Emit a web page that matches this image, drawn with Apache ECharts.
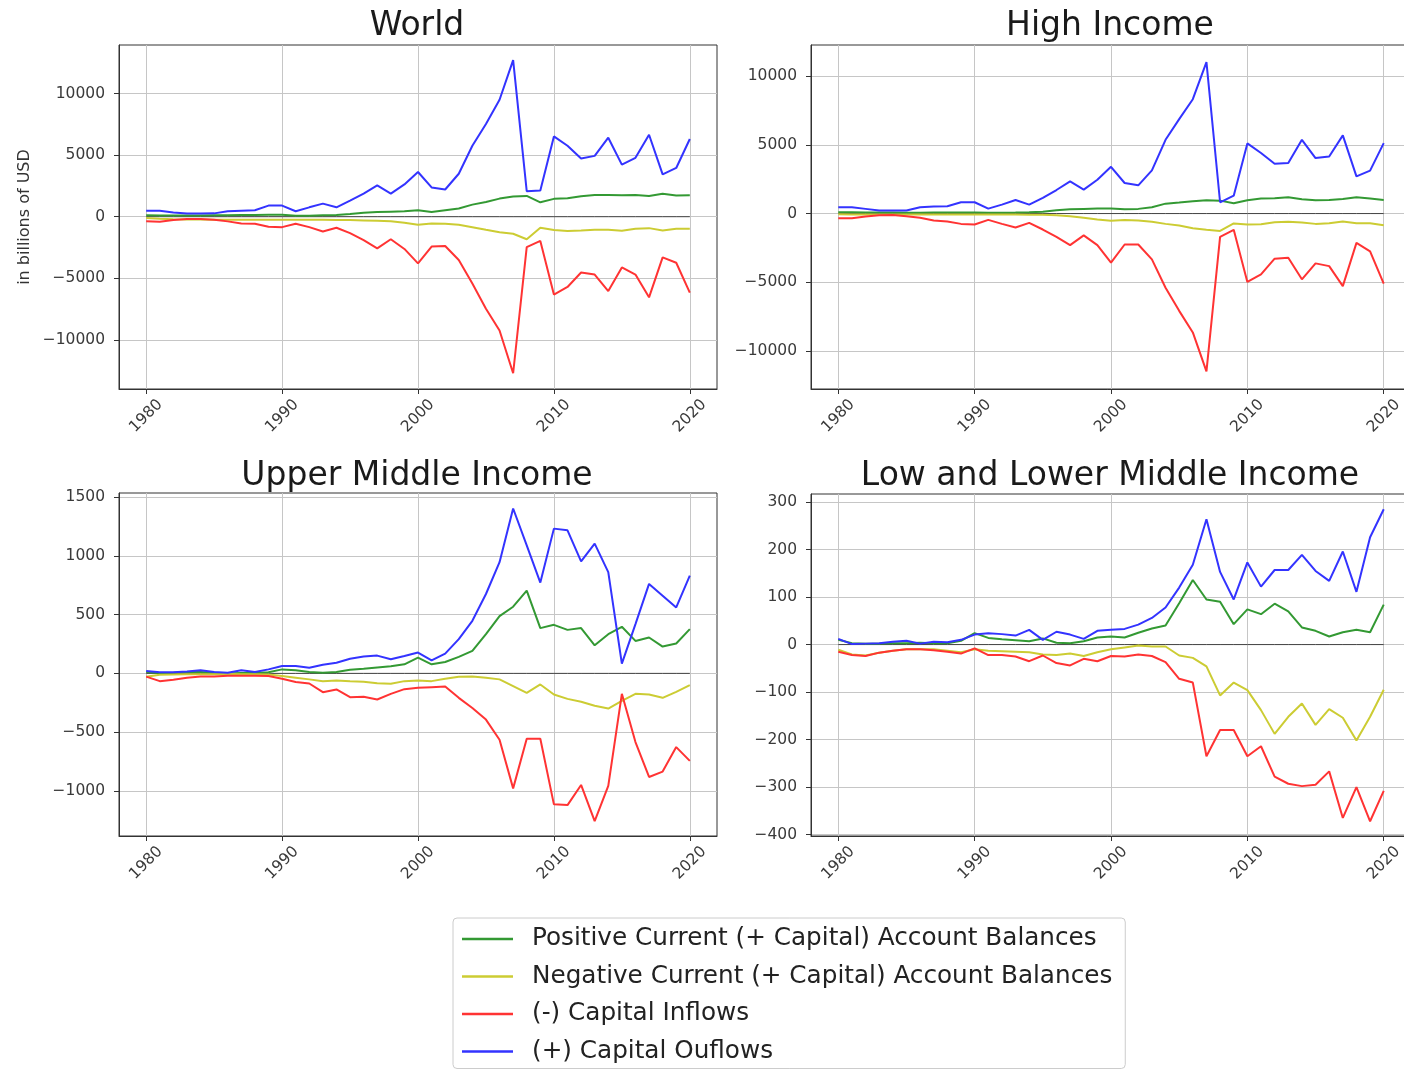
<!DOCTYPE html>
<html><head><meta charset="utf-8">
<script src="https://cdn.jsdelivr.net/npm/echarts@6/dist/echarts.min.js"></script>
<style>html,body{margin:0;padding:0;background:#fff}#c{width:1404px;height:1071px}</style>
</head><body><div id="c"></div>
<script>
// ---------- DATA (billions of USD) ----------
const years = [1980,1981,1982,1983,1984,1985,1986,1987,1988,1989,1990,1991,1992,1993,1994,1995,1996,1997,1998,1999,2000,2001,2002,2003,2004,2005,2006,2007,2008,2009,2010,2011,2012,2013,2014,2015,2016,2017,2018,2019,2020];
const xTicks = [1980,1990,2000,2010,2020];
const seriesNames = ['Positive Current (+ Capital) Account Balances','Negative Current (+ Capital) Account Balances','(-) Capital Inflows','(+) Capital Ouflows'];
const panelTitles = ['World','High Income','Upper Middle Income','Low and Lower Middle Income'];
const yAxisTitle = 'in billions of USD';

// World
const worldPos = [110,100,100,90,100,110,120,130,140,150,160,80,80,110,140,220,330,380,410,440,520,380,520,660,980,1200,1470,1640,1690,1170,1450,1500,1670,1770,1770,1750,1770,1690,1860,1720,1750];
const worldNeg = [-110,-160,-200,-220,-230,-240,-250,-250,-250,-250,-250,-240,-240,-250,-260,-270,-300,-330,-380,-490,-660,-550,-570,-660,-850,-1060,-1260,-1390,-1830,-900,-1090,-1170,-1120,-1060,-1060,-1150,-980,-930,-1120,-980,-980];
const worldIn = [-380,-410,-270,-190,-190,-250,-380,-550,-570,-820,-850,-570,-850,-1200,-900,-1340,-1910,-2570,-1830,-2620,-3790,-2430,-2380,-3520,-5430,-7480,-9250,-12720,-2480,-1970,-6330,-5710,-4530,-4700,-6040,-4120,-4700,-6550,-3300,-3740,-6170];
const worldOut = [490,490,350,250,250,270,440,490,520,900,900,440,760,1060,760,1310,1880,2540,1880,2620,3630,2380,2210,3490,5760,7530,9500,12720,2070,2130,6520,5760,4720,4940,6420,4230,4780,6660,3440,3960,6310];

// High Income
const hiPos = [100,90,80,70,70,60,60,70,70,70,70,60,60,70,90,140,240,310,340,360,360,310,340,460,720,800,890,970,940,750,970,1090,1110,1180,1040,970,990,1060,1180,1090,990];
const hiNeg = [-50,-60,-70,-70,-70,-70,-70,-70,-70,-70,-70,-70,-70,-70,-80,-90,-120,-190,-310,-430,-530,-460,-510,-600,-750,-870,-1060,-1180,-1260,-720,-800,-770,-630,-600,-650,-750,-700,-580,-700,-700,-850];
const hiIn = [-340,-340,-220,-120,-100,-190,-310,-510,-580,-750,-800,-460,-750,-1010,-680,-1160,-1690,-2290,-1590,-2290,-3570,-2250,-2250,-3330,-5390,-7070,-8640,-11470,-1690,-1180,-4970,-4420,-3280,-3210,-4780,-3620,-3820,-5270,-2130,-2750,-5100];
const hiOut = [460,460,340,220,220,220,460,510,530,820,820,360,650,990,650,1140,1710,2340,1740,2460,3400,2220,2050,3140,5360,6860,8310,11010,820,1300,5100,4400,3620,3670,5360,4030,4150,5680,2700,3120,5120];

// Upper Middle Income
const umiPos = [11,3,6,11,11,6,0,3,3,9,34,26,11,6,11,31,40,51,60,77,134,77,97,140,191,333,487,567,704,385,413,370,385,239,333,396,276,305,228,254,376];
const umiNeg = [-28,-12,-10,-8,-8,-8,-6,-8,-8,-10,-23,-37,-51,-66,-60,-66,-71,-83,-88,-66,-60,-66,-46,-28,-26,-37,-51,-108,-165,-94,-180,-217,-242,-276,-299,-233,-174,-180,-208,-157,-100];
const umiIn = [-28,-66,-54,-37,-26,-26,-20,-20,-20,-23,-46,-74,-86,-160,-137,-202,-199,-222,-174,-134,-123,-117,-111,-208,-294,-393,-564,-978,-556,-556,-1114,-1120,-949,-1257,-957,-174,-584,-881,-835,-627,-744];
const umiOut = [20,9,9,17,26,11,5,26,11,34,63,63,48,74,91,125,143,151,120,148,177,111,168,291,447,675,946,1402,1089,772,1231,1217,952,1103,861,83,419,761,661,561,832];

// Low and Lower Middle Income
const llPos = [10,3,2,2,3,3,4,3,3,8,24,14,11,9,7,13,4,3,7,15,17,15,25,34,40,87,136,95,90,43,74,64,86,70,36,29,17,26,31,26,84];
const llNeg = [-11,-21,-23,-17,-13,-10,-10,-10,-13,-16,-10,-13,-14,-15,-16,-21,-22,-19,-24,-16,-10,-6,-2,-4,-4,-23,-28,-46,-107,-80,-96,-138,-188,-152,-124,-169,-136,-154,-202,-152,-95];
const llIn = [-15,-22,-24,-17,-13,-10,-10,-12,-15,-19,-8,-22,-22,-25,-35,-23,-39,-44,-30,-35,-24,-25,-21,-24,-37,-72,-80,-235,-180,-180,-235,-214,-278,-293,-298,-295,-267,-365,-300,-372,-308];
const llOut = [12,1,2,3,6,8,2,6,5,10,21,24,22,19,31,10,27,21,12,29,31,33,42,56,78,120,168,264,153,95,173,122,157,157,189,155,134,196,111,226,285];

const zeroLine = [0,0,0,0,0,0,0,0,0,0,0,0,0,0,0,0,0,0,0,0,0,0,0,0,0,0,0,0,0,0,0,0,0,0,0,0,0,0,0,0,0];

const yTicksWorld = [-10000,-5000,0,5000,10000];
const yTicksHI = [-10000,-5000,0,5000,10000];
const yTicksUMI = [-1000,-500,0,500,1000,1500];
const yTicksLL = [-400,-300,-200,-100,0,100,200,300];

// ---------- LAYOUT / STYLE ----------
const panels = [
  {pos: worldPos, neg: worldNeg, inf: worldIn, out: worldOut, ticks: yTicksWorld, min: -14000, max: 13950, grid: [119, 45, 598, 344], title: [417, 10]},
  {pos: hiPos, neg: hiNeg, inf: hiIn, out: hiOut, ticks: yTicksHI, min: -12750, max: 12250, grid: [811, 45, 600, 344], title: [1110, 10]},
  {pos: umiPos, neg: umiNeg, inf: umiIn, out: umiOut, ticks: yTicksUMI, min: -1383, max: 1534, grid: [119, 493, 598, 343], title: [417, 460]},
  {pos: llPos, neg: llNeg, inf: llIn, out: llOut, ticks: yTicksLL, min: -403, max: 317, grid: [811, 494, 600, 342], title: [1110, 460]}
];
const colors = ['#339933', '#cccc33', '#ff3333', '#3333ff'];
const FONT = 'DejaVu Sans';
const minus = v => String(v).replace('-', '\u2212');
const pairs = arr => arr.map((v, i) => [years[i], v]);

const option = {
  animation: false,
  backgroundColor: '#ffffff',
  title: panels.map((p, i) => ({
    text: panelTitles[i], left: p.title[0], top: p.title[1], textAlign: 'center', padding: 0,
    textStyle: {fontSize: 33, fontWeight: 'normal', fontFamily: FONT, color: '#1a1a1a'}
  })),
  grid: panels.map(p => ({
    left: p.grid[0], top: p.grid[1], width: p.grid[2], height: p.grid[3],
    show: true, borderColor: '#333', borderWidth: 1, backgroundColor: 'transparent',
    containLabel: false, outerBoundsMode: 'none'
  })),
  xAxis: panels.map((p, i) => ({
    type: 'value', gridIndex: i, min: 1978, max: 2022,
    axisLine: {show: true, onZero: false, lineStyle: {color: '#333', width: 1}},
    axisTick: {show: true, inside: false, length: 5, customValues: xTicks, lineStyle: {color: '#333'}},
    axisLabel: {customValues: xTicks, rotate: 45, align: 'center', verticalAlign: 'middle', margin: 27,
      fontSize: 15.5, fontFamily: FONT, color: '#3a3a3a', formatter: v => String(v)},
    splitLine: {show: true, lineStyle: {color: '#c6c6c6', width: 1}}
  })),
  yAxis: panels.map((p, i) => ({
    type: 'value', gridIndex: i, min: p.min, max: p.max,
    name: i === 0 ? yAxisTitle : '', nameLocation: 'middle', nameRotate: 90, nameGap: 86,
    nameTextStyle: {fontSize: 16, fontFamily: FONT, color: '#333'},
    axisLine: {show: true, onZero: false, lineStyle: {color: '#333', width: 1}},
    axisTick: {show: true, inside: false, length: 5, customValues: p.ticks, lineStyle: {color: '#333'}},
    axisLabel: {customValues: p.ticks, margin: 14, fontSize: 15.5, fontFamily: FONT, color: '#3a3a3a', formatter: minus},
    splitLine: {show: true, lineStyle: {color: '#c6c6c6', width: 1}}
  })),
  legend: {
    data: seriesNames, orient: 'vertical', left: 453, top: 918, padding: [7, 13, 3, 9],
    itemWidth: 51, itemHeight: 2.5, itemGap: 9.5, icon: 'rect', selectedMode: false,
    borderColor: '#cccccc', borderWidth: 1, borderRadius: 4, backgroundColor: '#ffffff',
    textStyle: {fontSize: 24.7, fontFamily: FONT, color: '#222', lineHeight: 28, padding: [0, 0, 0, 14]}
  },
  series: []
};

panels.forEach((p, i) => {
  [p.pos, p.neg, p.inf, p.out].forEach((arr, k) => {
    option.series.push({
      type: 'line', name: seriesNames[k], xAxisIndex: i, yAxisIndex: i, data: pairs(arr),
      symbol: 'none', showSymbol: false, silent: true, color: colors[k],
      itemStyle: {color: colors[k]}, lineStyle: {color: colors[k], width: 2}, emphasis: {disabled: true}
    });
  });
  option.series.push({
    type: 'line', name: 'zero', xAxisIndex: i, yAxisIndex: i, data: pairs(zeroLine),
    symbol: 'none', showSymbol: false, silent: true, z: 1,
    lineStyle: {color: '#444', width: 1}, emphasis: {disabled: true}
  });
});

const chart = echarts.init(document.getElementById('c'), null, {renderer: 'canvas'});
chart.setOption(option);
</script>
</body></html>
